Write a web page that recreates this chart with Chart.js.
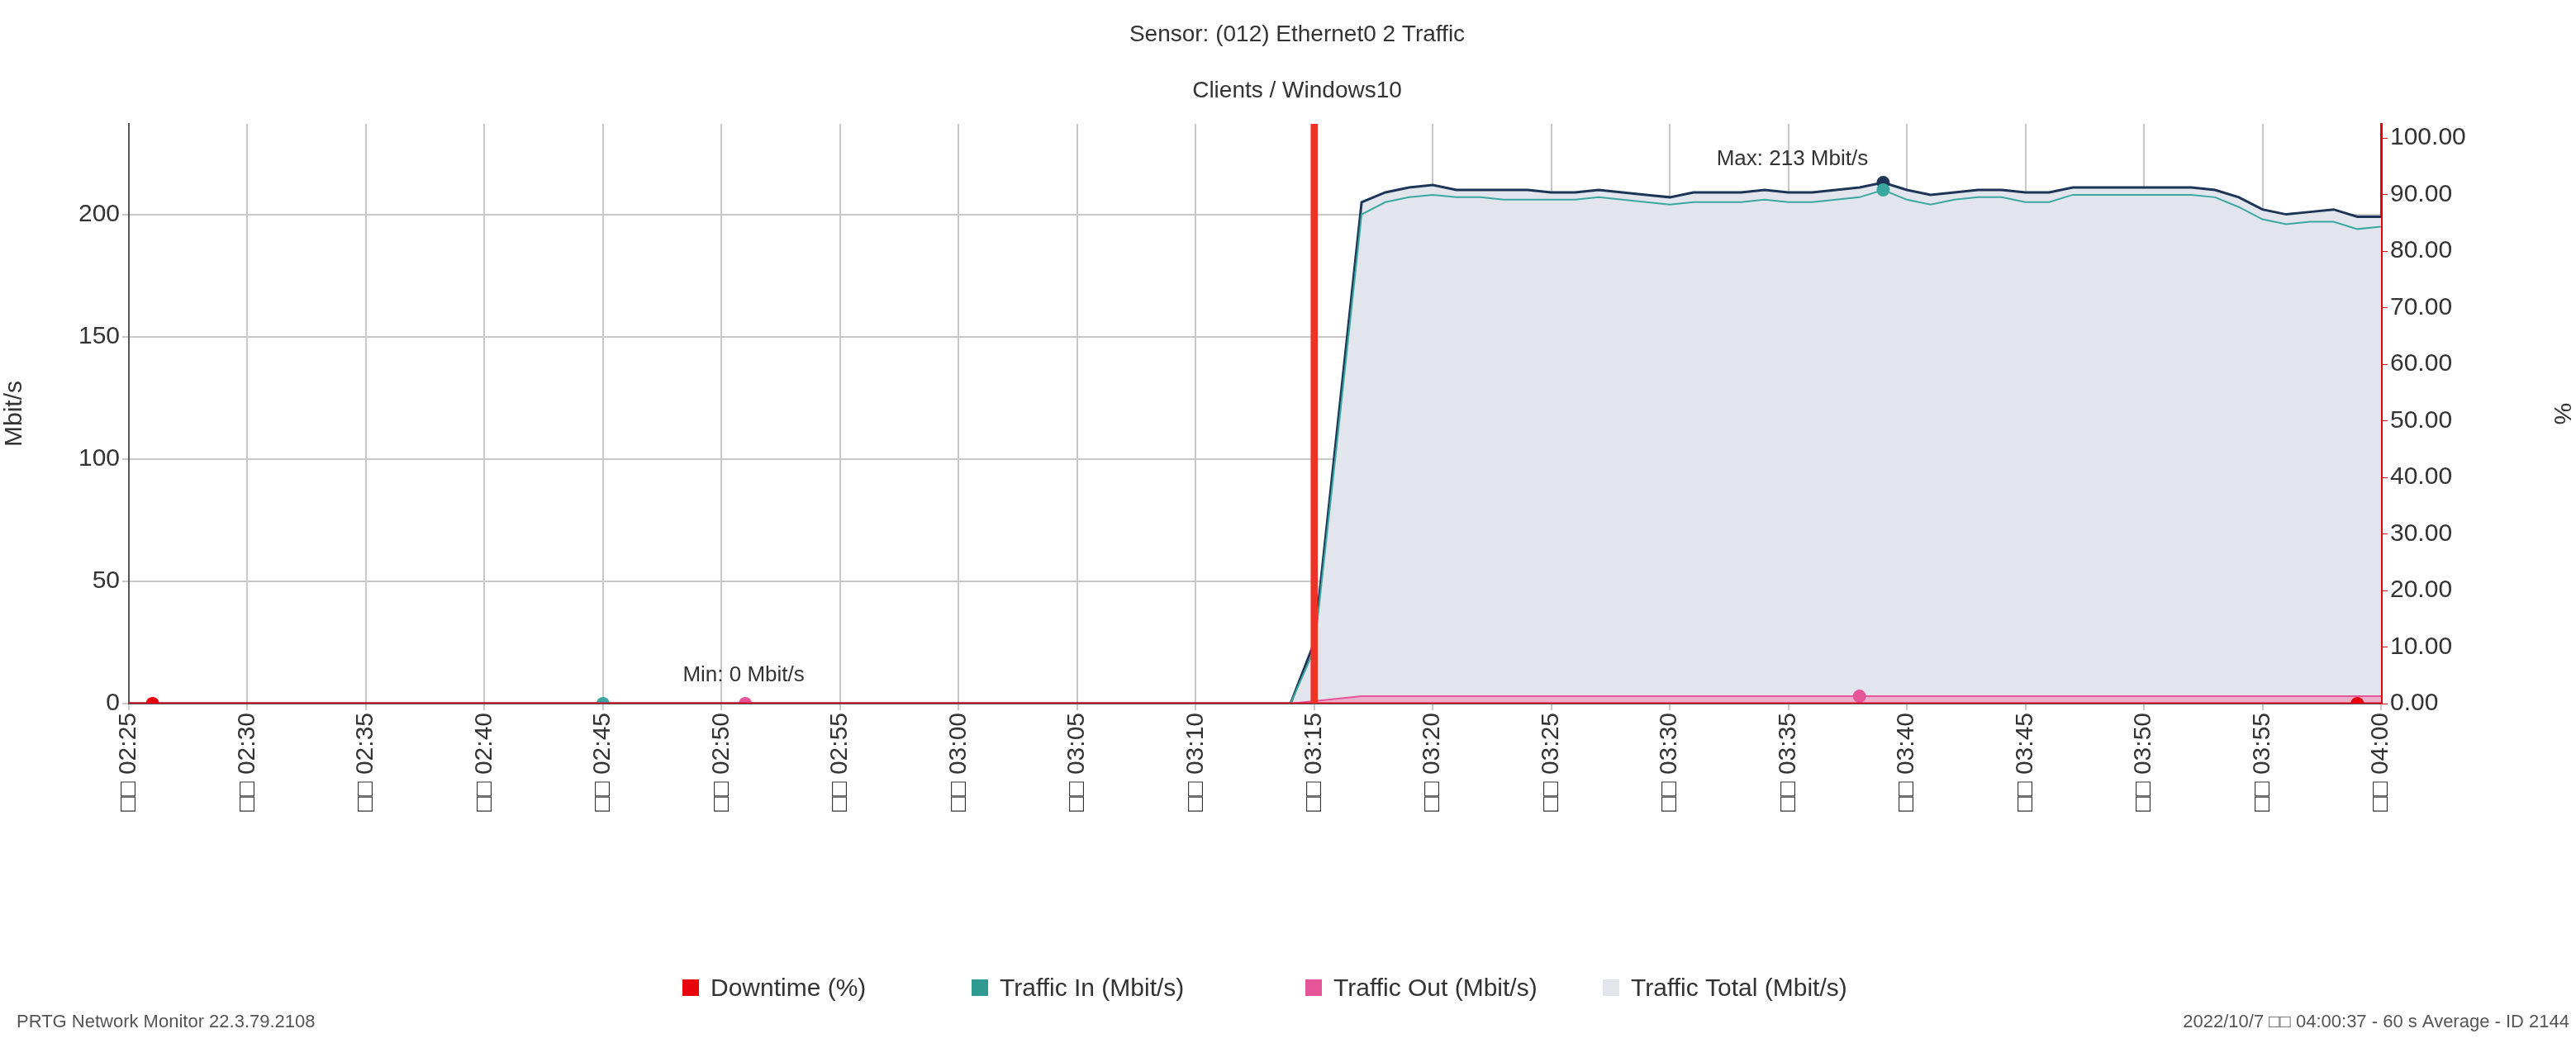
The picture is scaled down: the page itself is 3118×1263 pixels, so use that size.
<!DOCTYPE html>
<html><head><meta charset="utf-8">
<script src="https://cdn.jsdelivr.net/npm/chart.js@4/dist/chart.umd.min.js"></script>
<style>html,body{margin:0;background:#fff}#wrap{width:3118px;height:1263px}</style>
</head><body><div id="wrap"><canvas id="c"></canvas></div>
<script>
const minutes = [];
for (let m = 25; m <= 120; m++) minutes.push(String(2 + Math.floor(m / 60)).padStart(2, '0') + ':' + String(m % 60).padStart(2, '0'));

const zeros50 = new Array(50).fill(0);
const trafficTotal = zeros50.concat([25, 115, 205, 209, 211, 212, 210, 210, 210, 210, 209, 209, 210, 209, 208, 207, 209, 209, 209, 210,
  209, 209, 210, 211, 213, 210, 208, 209, 210, 210, 209, 209, 211, 211, 211, 211, 211, 211, 210, 207, 202, 200, 201, 202, 199, 199]);
const trafficIn = zeros50.concat([22, 110, 200, 205, 207, 208, 207, 207, 206, 206, 206, 206, 207, 206, 205, 204, 205, 205, 205, 206,
  205, 205, 206, 207, 210, 206, 204, 206, 207, 207, 205, 205, 208, 208, 208, 208, 208, 208, 207, 203, 198, 196, 197, 197, 194, 195]);
const trafficOut = zeros50.concat([1, 2, 3, 3, 3, 3, 3, 3, 3, 3, 3, 3, 3, 3, 3, 3, 3, 3, 3, 3,
  3, 3, 3, 3, 3, 3, 3, 3, 3, 3, 3, 3, 3, 3, 3, 3, 3, 3, 3, 3, 3, 3, 3, 3, 3, 3]);
const downtime = new Array(96).fill(0);
const downtimeBar = new Array(96).fill(null); downtimeBar[50] = 104;
const leftTicks = [0, 50, 100, 150, 200];

const S = 2;
const FONT = 'Liberation Sans';
const markers = {total: [74], in: [20, 74], out: [26, 73], down: [1, 94]};
const radii = idx => minutes.map((_, i) => idx.includes(i) ? 4 * S : 0);

const textPlugin = {
  id: 'texts',
  afterDraw(chart) {
    const ctx = chart.ctx, x = chart.scales.x, y = chart.scales.y;
    ctx.save();
    ctx.fillStyle = '#333';
    ctx.textAlign = 'center'; ctx.textBaseline = 'middle';
    ctx.font = `${14 * S}px "${FONT}"`;
    ctx.fillText('Sensor: (012) Ethernet0 2 Traffic', 1570, 42);
    ctx.fillText('Clients / Windows10', 1570, 110);
    ctx.font = `${13 * S}px "${FONT}"`;
    ctx.fillText('Max: 213 Mbit/s', x.getPixelForValue(74) - 110, y.getPixelForValue(213) - 28);
    ctx.fillText('Min: 0 Mbit/s', x.getPixelForValue(26) - 2, y.getPixelForValue(0) - 34);
    // legend
    const items = [['Downtime (%)', '#e8000b'], ['Traffic In (Mbit/s)', '#2f9a92'], ['Traffic Out (Mbit/s)', '#e6559a'], ['Traffic Total (Mbit/s)', '#e2e5ea']];
    const lx = [826, 1176, 1580, 1940];
    ctx.textAlign = 'left'; ctx.font = `${15 * S}px "${FONT}"`;
    items.forEach((it, i) => {
      ctx.fillStyle = it[1]; ctx.fillRect(lx[i], 1186, 20, 20);
      ctx.fillStyle = '#333'; ctx.fillText(it[0], lx[i] + 34, 1198);
    });
    ctx.font = `${11 * S}px "${FONT}"`; ctx.fillStyle = '#555';
    ctx.fillText('PRTG Network Monitor 22.3.79.2108', 20, 1238);
    ctx.textAlign = 'right';
    ctx.fillText('2022/10/7 □□ 04:00:37 - 60 s Average - ID 2144', 3110, 1238);
    ctx.restore();
  }
};

const tickFont = {family: FONT, size: 15 * S};
new Chart('c', {
  data: {
    labels: minutes,
    datasets: [
      {type: 'bar', data: downtimeBar, yAxisID: 'y1', backgroundColor: '#f0312a', barThickness: 8, order: 0},
      {type: 'line', data: downtime, yAxisID: 'y1', borderColor: '#e8000b', borderWidth: 3, pointRadius: radii(markers.down), pointBackgroundColor: '#e8000b', pointBorderWidth: 0, order: 1},
      {type: 'line', data: trafficOut, yAxisID: 'y', borderColor: '#e6559a', backgroundColor: 'rgba(240,140,185,0.6)', fill: 'origin', borderWidth: 2, pointRadius: radii(markers.out), pointBackgroundColor: '#e6559a', pointBorderWidth: 0, order: 2},
      {type: 'line', data: trafficIn, yAxisID: 'y', borderColor: '#3aa8a0', borderWidth: 2, pointRadius: radii(markers.in), pointBackgroundColor: '#3aa8a0', pointBorderWidth: 0, order: 3},
      {type: 'line', data: trafficTotal, yAxisID: 'y', borderColor: '#1d3557', backgroundColor: '#e2e5ec', fill: 'origin', borderWidth: 3, pointRadius: radii(markers.total), pointBackgroundColor: '#1d3557', pointBorderWidth: 0, order: 4}
    ]
  },
  options: {
    responsive: true, maintainAspectRatio: false, animation: false,
    layout: {padding: {top: 150, left: 0, right: 0, bottom: 0}},
    plugins: {legend: {display: false}, tooltip: {enabled: false}},
    scales: {
      x: {
        offset: false,
        grid: {offset: false, color: '#c8c8c8', lineWidth: 2, drawTicks: true, tickLength: 8},
        border: {color: '#555', width: 2},
        afterFit: s => { s.height = 411; },
        ticks: {autoSkip: false, minRotation: 90, maxRotation: 90, font: tickFont, color: '#333',
          callback: (v, i) => i % 5 === 0 ? '□□ ' + minutes[i] : null}
      },
      y: {
        position: 'left', min: 0, max: 237,
        afterFit: s => { s.width = 156; },
        afterBuildTicks: s => { s.ticks = leftTicks.map(v => ({value: v})); },
        grid: {color: '#c8c8c8', lineWidth: 2},
        border: {color: '#555', width: 2},
        ticks: {font: tickFont, color: '#333'},
        title: {display: true, text: 'Mbit/s', font: tickFont, color: '#333', padding: {top: 0, bottom: 14}}
      },
      y1: {
        position: 'right', min: 0, max: 102.5,
        afterFit: s => { s.width = 218 + 18; },
        afterBuildTicks: s => { s.ticks = Array.from({length: 11}, (_, i) => ({value: i * 10})); },
        grid: {drawOnChartArea: false, color: '#e8000b', tickLength: 8},
        border: {color: '#e8000b', width: 3},
        ticks: {font: tickFont, color: '#333', callback: v => v.toFixed(2)},
        title: {display: true, text: '%', font: tickFont, color: '#333', padding: {top: 0, bottom: 60}}
      }
    }
  },
  plugins: [textPlugin]
});
</script>
</body></html>
